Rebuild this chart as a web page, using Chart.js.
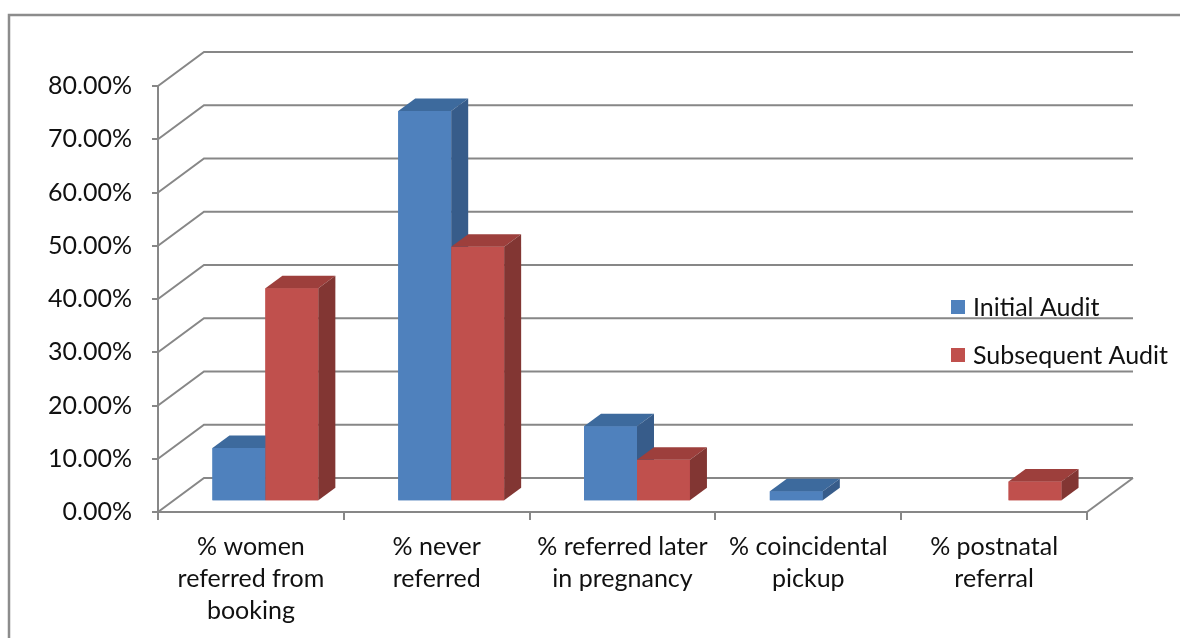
<!DOCTYPE html>
<html>
<head>
<meta charset="utf-8">
<title>Referral audit</title>
<script src="https://cdn.jsdelivr.net/npm/chart.js@4.4.0/dist/chart.umd.min.js"></script>
<style>
  html, body { margin: 0; padding: 0; background: #fff; }
  canvas { display: block; }
</style>
</head>
<body>
<canvas id="audit-chart" width="1180" height="638"></canvas>
<script>
// --- DATA ---
const categories = [
  ['% women', 'referred from', 'booking'],
  ['% never', 'referred'],
  ['% referred later', 'in pregnancy'],
  ['% coincidental', 'pickup'],
  ['% postnatal', 'referral']
];
const seriesNames = ['Initial Audit', 'Subsequent Audit'];
const initialAudit = [10, 73.3, 14.1, 1.9, 0];
const subsequentAudit = [40, 47.8, 7.8, 0, 3.7];
const yTicks = [0, 10, 20, 30, 40, 50, 60, 70, 80];

// --- STYLE ---
const FONT = 'Lato, "Open Sans", sans-serif';
const TEXT_COLOR = '#111';
const GRID_COLOR = '#878787';
const FRONT = ['#4f81bd', '#c0504d'];
const TOP = ['#3d6a9d', '#9d3f3c'];
const SIDE = ['#375c8a', '#823633'];

// depth of the floor/walls, and depth of a single column
const DEPTH = { dx: 46, dy: -34 };
const BAR_DEPTH = { dx: 17, dy: -12.5 };
// columns stand in the middle of the floor depth
const BAR_SHIFT = { dx: (DEPTH.dx - BAR_DEPTH.dx) / 2, dy: (DEPTH.dy - BAR_DEPTH.dy) / 2 };

// --- PLUGINS ---
const framePlugin = {
  id: 'frame',
  beforeDraw(chart) {
    const ctx = chart.ctx;
    ctx.save();
    ctx.fillStyle = '#fff';
    ctx.fillRect(0, 0, chart.width, chart.height);
    ctx.strokeStyle = '#8c8c8c';
    ctx.lineWidth = 2.5;
    ctx.strokeRect(9, 15, chart.width + 20, chart.height + 20);
    ctx.restore();
  }
};

// back wall gridlines + the diagonal edges of the side wall and floor
const wallsPlugin = {
  id: 'walls',
  beforeDatasetsDraw(chart) {
    const { ctx, chartArea } = chart;
    const yScale = chart.scales.y;
    ctx.save();
    ctx.strokeStyle = GRID_COLOR;
    ctx.lineWidth = 2;
    yScale.ticks.forEach(t => {
      const y = yScale.getPixelForValue(t.value);
      ctx.beginPath();
      ctx.moveTo(chartArea.left, y);
      ctx.lineTo(chartArea.left + DEPTH.dx, y + DEPTH.dy);
      ctx.lineTo(chartArea.right + DEPTH.dx, y + DEPTH.dy);
      ctx.stroke();
    });
    ctx.beginPath();
    ctx.moveTo(chartArea.right, chartArea.bottom);
    ctx.lineTo(chartArea.right + DEPTH.dx, chartArea.bottom + DEPTH.dy);
    ctx.stroke();
    ctx.restore();
  }
};

function face(ctx, pts, color) {
  ctx.beginPath();
  ctx.moveTo(pts[0][0], pts[0][1]);
  for (let i = 1; i < pts.length; i++) ctx.lineTo(pts[i][0], pts[i][1]);
  ctx.closePath();
  ctx.fillStyle = color;
  ctx.fill();
}

// turns the flat bars into columns: shift them back, then add top and side faces
const columnsPlugin = {
  id: 'columns3d',
  beforeDatasetsDraw(chart) {
    chart.ctx.save();
    chart.ctx.translate(BAR_SHIFT.dx, BAR_SHIFT.dy);
  },
  afterDatasetsDraw(chart) {
    const ctx = chart.ctx;
    const metas = chart.data.datasets.map((d, i) => chart.getDatasetMeta(i));
    chart.data.labels.forEach((label, i) => {
      metas.forEach((meta, d) => {
        const value = chart.data.datasets[d].data[i];
        if (!value) return;
        const el = meta.data[i];
        const { x, y, base, width } = el.getProps(['x', 'y', 'base', 'width'], true);
        const l = x - width / 2, r = x + width / 2;
        el.draw(ctx);
        face(ctx, [[l, y], [r, y], [r + BAR_DEPTH.dx, y + BAR_DEPTH.dy], [l + BAR_DEPTH.dx, y + BAR_DEPTH.dy]], TOP[d]);
        face(ctx, [[r, y], [r + BAR_DEPTH.dx, y + BAR_DEPTH.dy], [r + BAR_DEPTH.dx, base + BAR_DEPTH.dy], [r, base]], SIDE[d]);
      });
    });
    ctx.restore();
  }
};

const legendPlugin = {
  id: 'sideLegend',
  afterDraw(chart) {
    const ctx = chart.ctx;
    const rows = [307, 355];
    ctx.save();
    ctx.font = '25px ' + FONT;
    ctx.textBaseline = 'middle';
    ctx.textAlign = 'left';
    chart.data.datasets.forEach((ds, i) => {
      ctx.fillStyle = ds.backgroundColor;
      ctx.fillRect(951, rows[i] - 7, 14, 14);
      ctx.fillStyle = TEXT_COLOR;
      ctx.fillText(ds.label, 973, rows[i] + 1);
    });
    ctx.restore();
  }
};

// --- CHART ---
const ctx = document.getElementById('audit-chart').getContext('2d');
new Chart(ctx, {
  type: 'bar',
  data: {
    labels: categories,
    datasets: [
      { label: seriesNames[0], data: initialAudit, backgroundColor: FRONT[0], clip: false },
      { label: seriesNames[1], data: subsequentAudit, backgroundColor: FRONT[1], clip: false }
    ]
  },
  options: {
    responsive: false,
    animation: false,
    devicePixelRatio: 1,
    layout: { padding: { top: 86, right: 93, left: 0, bottom: 0 } },
    datasets: { bar: { categoryPercentage: 0.57, barPercentage: 1, borderWidth: 0 } },
    plugins: { legend: { display: false }, tooltip: { enabled: false } },
    scales: {
      x: {
        ticks: { font: { family: FONT, size: 25, lineHeight: 1.28 }, color: TEXT_COLOR, padding: 11, maxRotation: 0, autoSkip: false },
        grid: { drawOnChartArea: false, tickLength: 8, color: GRID_COLOR, lineWidth: 2, offset: true },
        border: { color: GRID_COLOR, width: 2 },
        afterFit: s => { s.height = 126; }
      },
      y: {
        min: 0,
        max: 80,
        afterBuildTicks: s => { s.ticks = yTicks.map(v => ({ value: v })); },
        ticks: { callback: v => v.toFixed(2) + '%', font: { family: FONT, size: 25 }, color: TEXT_COLOR, padding: 20 },
        grid: { drawOnChartArea: false, tickLength: 6, color: GRID_COLOR, lineWidth: 2 },
        border: { color: GRID_COLOR, width: 2 },
        afterFit: s => { s.width = 158; }
      }
    }
  },
  plugins: [framePlugin, wallsPlugin, columnsPlugin, legendPlugin]
});
</script>
</body>
</html>
